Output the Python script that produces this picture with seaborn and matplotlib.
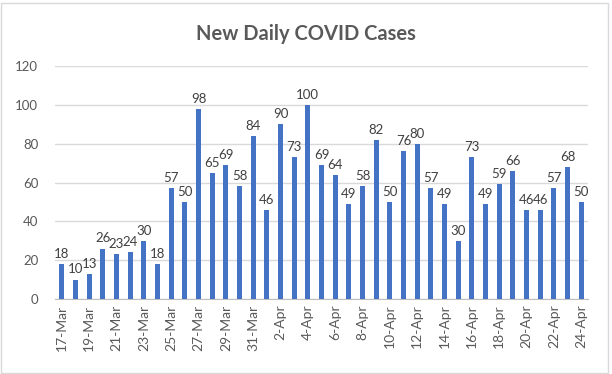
import numpy as np
import pandas as pd
import seaborn as sns
import matplotlib.pyplot as plt
from matplotlib.patches import Rectangle

# Daily values
mar_days = [f"{d}-Mar" for d in range(17, 32)]
apr_days = [f"{d}-Apr" for d in range(1, 25)]
dates = mar_days + apr_days
cases = [18, 10, 13, 26, 23, 24, 30, 18, 57, 50, 98, 65, 69, 58, 84,
         46, 90, 73, 100, 69, 64, 49, 58, 82, 50, 76, 80, 57, 49, 30,
         73, 49, 59, 66, 46, 46, 57, 68, 50]

df = pd.DataFrame({"date": dates, "cases": cases})

sns.set_style("white")
plt.rcParams['font.family'] = ['Lato', 'DejaVu Sans']
text_col = "#595959"

fig = plt.figure(figsize=(6.12, 3.74), dpi=100)
ax = fig.add_axes([0.0899, 0.2005, 0.8709, 0.623])

sns.barplot(data=df, x="date", y="cases", color="#4472C4", width=0.38,
            saturation=1, linewidth=0, ax=ax, zorder=3)

# Data labels
for i, v in enumerate(cases):
    ax.annotate(str(v), (i, v), xytext=(0, 3), textcoords="offset points",
                ha="center", va="bottom", fontsize=9.5, color="#404040")

ax.set_xlim(-0.5, len(dates) - 0.5)
ax.set_ylim(0, 120)
ax.set_yticks(range(0, 121, 20))
ax.yaxis.grid(True, color="#d9d9d9", linewidth=1)
ax.set_axisbelow(True)

# Every other label, tick marks between categories
ax.set_xticks(range(0, len(dates), 2))
ax.set_xticklabels(dates[::2], rotation=90, fontsize=10, color=text_col)
ax.set_xticks(np.arange(-0.5, len(dates) - 0.5, 2), minor=True)
ax.tick_params(axis="x", which="major", length=0, pad=4)
ax.tick_params(axis="x", which="minor", length=5, color="#bfbfbf", width=1)
ax.tick_params(axis="y", length=0, labelsize=9.5, labelcolor=text_col, pad=12)

for s in ["top", "right", "left"]:
    ax.spines[s].set_visible(False)
ax.spines["bottom"].set_color("#bfbfbf")

ax.set_xlabel("")
ax.set_ylabel("")

fig.text(0.5, 0.91, "New Daily COVID Cases", ha="center", va="center",
         fontsize=14.5, fontweight="bold", color=text_col)

# Chart border
fig.patches.append(Rectangle((0.002, 0.003), 0.992, 0.99, transform=fig.transFigure,
                             fill=False, edgecolor="#d9d9d9", linewidth=1))

fig.savefig("out.png", dpi=100)
